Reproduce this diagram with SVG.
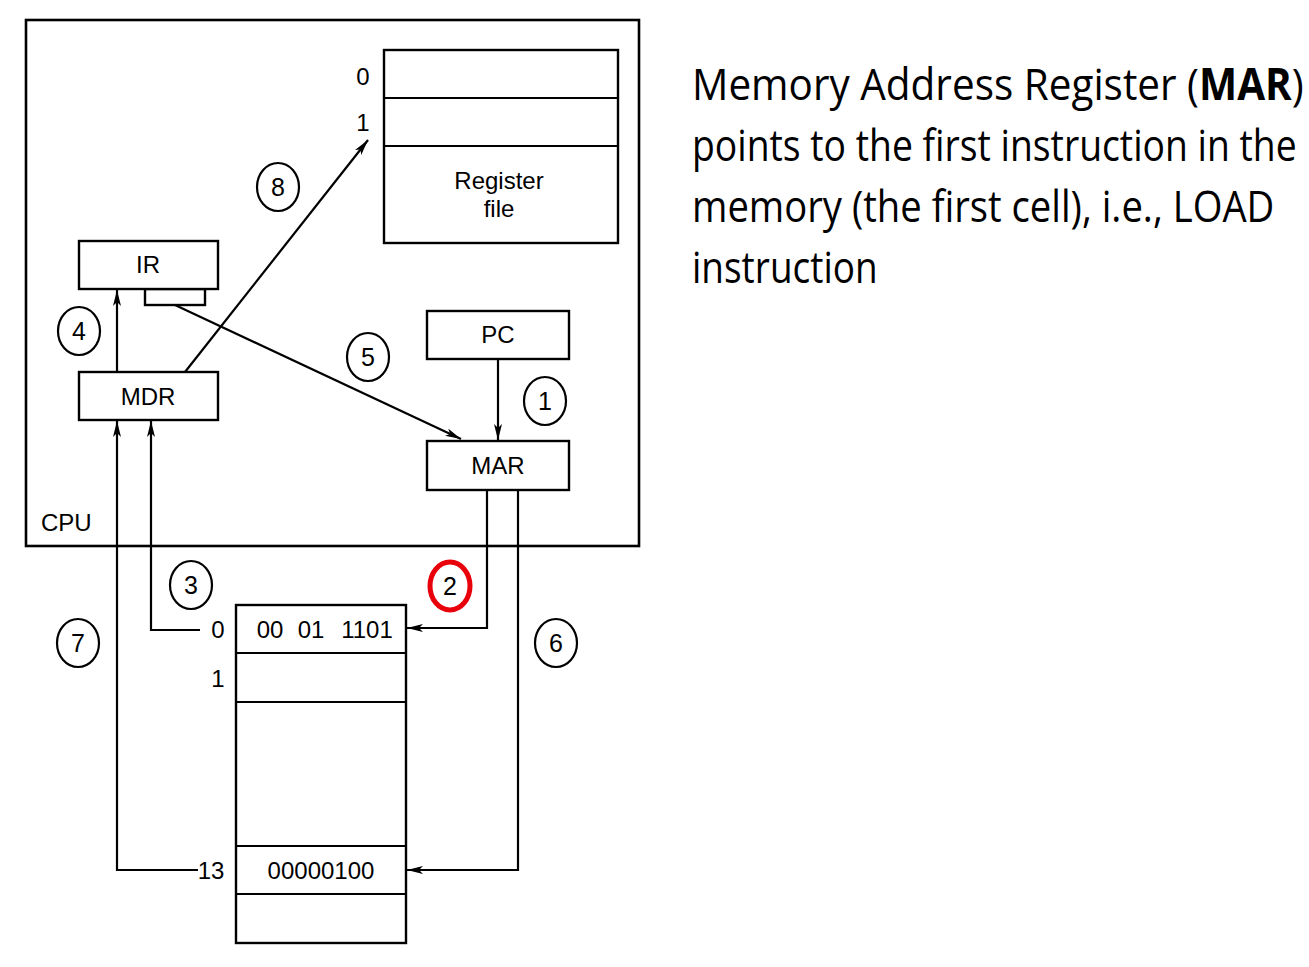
<svg xmlns="http://www.w3.org/2000/svg" width="1309" height="967" viewBox="0 0 1309 967">
<defs>
<marker id="ah" viewBox="0 0 16 8" refX="16" refY="4" markerWidth="16" markerHeight="8" markerUnits="userSpaceOnUse" orient="auto">
<path d="M0,0 L16,4 L0,8 L4,4 Z" fill="#000"/>
</marker>
</defs>
<style>
.box{fill:#fff;stroke:#000;stroke-width:2.4}
.ln{fill:none;stroke:#000;stroke-width:2.2}
.t{font-family:"Liberation Sans",Arial,sans-serif;font-size:24px;fill:#000}
.n{font-family:"Liberation Sans",Arial,sans-serif;font-size:25px;fill:#000}
.c{fill:none;stroke:#000;stroke-width:2.2}
.big{font-family:"Open Sans","Liberation Sans",sans-serif;font-size:44px;fill:#000}
</style>
<rect width="1309" height="967" fill="#fff"/>
<g id="cpu">
<rect x="26" y="20" width="613" height="526" fill="none" stroke="#000" stroke-width="2.6"/>
<text class="t" x="41" y="531">CPU</text>
</g>
<g id="regfile">
<rect class="box" x="384" y="50" width="234" height="193"/>
<line class="ln" x1="384" y1="98" x2="618" y2="98"/>
<line class="ln" x1="384" y1="146" x2="618" y2="146"/>
<text class="t" x="363" y="85" text-anchor="middle">0</text>
<text class="t" x="363" y="131" text-anchor="middle">1</text>
<text class="t" x="499" y="189" text-anchor="middle">Register</text>
<text class="t" x="499" y="217" text-anchor="middle">file</text>
</g>
<g id="ir">
<rect class="box" x="145" y="289" width="60" height="16"/>
<rect class="box" x="79" y="241" width="139" height="48"/>
<text class="t" x="148" y="273" text-anchor="middle">IR</text>
</g>
<g id="mdr">
<rect class="box" x="79" y="372" width="139" height="48"/>
<text class="t" x="148" y="405" text-anchor="middle">MDR</text>
</g>
<g id="pc">
<rect class="box" x="427" y="311" width="142" height="48"/>
<text class="t" x="498" y="343" text-anchor="middle">PC</text>
</g>
<g id="mar">
<rect class="box" x="427" y="441" width="142" height="49"/>
<text class="t" x="498" y="474" text-anchor="middle">MAR</text>
</g>
<g id="memory">
<rect class="box" x="236" y="605" width="170" height="338"/>
<line class="ln" x1="236" y1="653" x2="406" y2="653"/>
<line class="ln" x1="236" y1="702" x2="406" y2="702"/>
<line class="ln" x1="236" y1="846" x2="406" y2="846"/>
<line class="ln" x1="236" y1="894" x2="406" y2="894"/>
<text class="t" x="270" y="638" text-anchor="middle">00</text>
<text class="t" x="311" y="638" text-anchor="middle">01</text>
<text class="t" x="367" y="638" text-anchor="middle">1101</text>
<text class="t" x="321" y="879" text-anchor="middle">00000100</text>
<text class="t" x="218" y="638" text-anchor="middle">0</text>
<text class="t" x="218" y="687" text-anchor="middle">1</text>
<text class="t" x="211" y="879" text-anchor="middle">13</text>
</g>
<g id="connectors">
<line class="ln" x1="185" y1="372" x2="368" y2="140" marker-end="url(#ah)"/>
<line class="ln" x1="117" y1="372" x2="117" y2="290" marker-end="url(#ah)"/>
<line class="ln" x1="175" y1="305" x2="461" y2="439" marker-end="url(#ah)"/>
<line class="ln" x1="498" y1="359" x2="498" y2="440" marker-end="url(#ah)"/>
<polyline class="ln" points="198,870 117,870 117,421" marker-end="url(#ah)"/>
<polyline class="ln" points="200,630 151,630 151,421" marker-end="url(#ah)"/>
<polyline class="ln" points="487,490 487,628 407,628" marker-end="url(#ah)"/>
<polyline class="ln" points="518,490 518,870 407,870" marker-end="url(#ah)"/>
</g>
<g id="labels">
<ellipse class="c" cx="278" cy="187" rx="21" ry="24"/><text class="n" x="278" y="196" text-anchor="middle">8</text>
<ellipse class="c" cx="79" cy="331" rx="21" ry="24"/><text class="n" x="79" y="340" text-anchor="middle">4</text>
<ellipse class="c" cx="368" cy="357" rx="21" ry="24"/><text class="n" x="368" y="366" text-anchor="middle">5</text>
<ellipse class="c" cx="545" cy="401" rx="21" ry="24"/><text class="n" x="545" y="410" text-anchor="middle">1</text>
<ellipse class="c" cx="191" cy="585" rx="21" ry="24"/><text class="n" x="191" y="594" text-anchor="middle">3</text>
<ellipse cx="450" cy="586" rx="20" ry="24" fill="none" stroke="#e8000b" stroke-width="5"/><text class="n" x="450" y="595" text-anchor="middle">2</text>
<ellipse class="c" cx="78" cy="643" rx="21" ry="24"/><text class="n" x="78" y="652" text-anchor="middle">7</text>
<ellipse class="c" cx="556" cy="643" rx="21" ry="24"/><text class="n" x="556" y="652" text-anchor="middle">6</text>
</g>
<g id="caption">
<text class="big" transform="translate(692,100) scale(0.92,1)">Memory Address Register (<tspan font-weight="bold">MAR</tspan>)</text>
<text class="big" transform="translate(692,161) scale(0.848,1)">points to the first instruction in the</text>
<text class="big" transform="translate(692,222) scale(0.869,1)">memory (the first cell), i.e., LOAD</text>
<text class="big" transform="translate(692,283) scale(0.84,1)">instruction</text>
</g>
</svg>
